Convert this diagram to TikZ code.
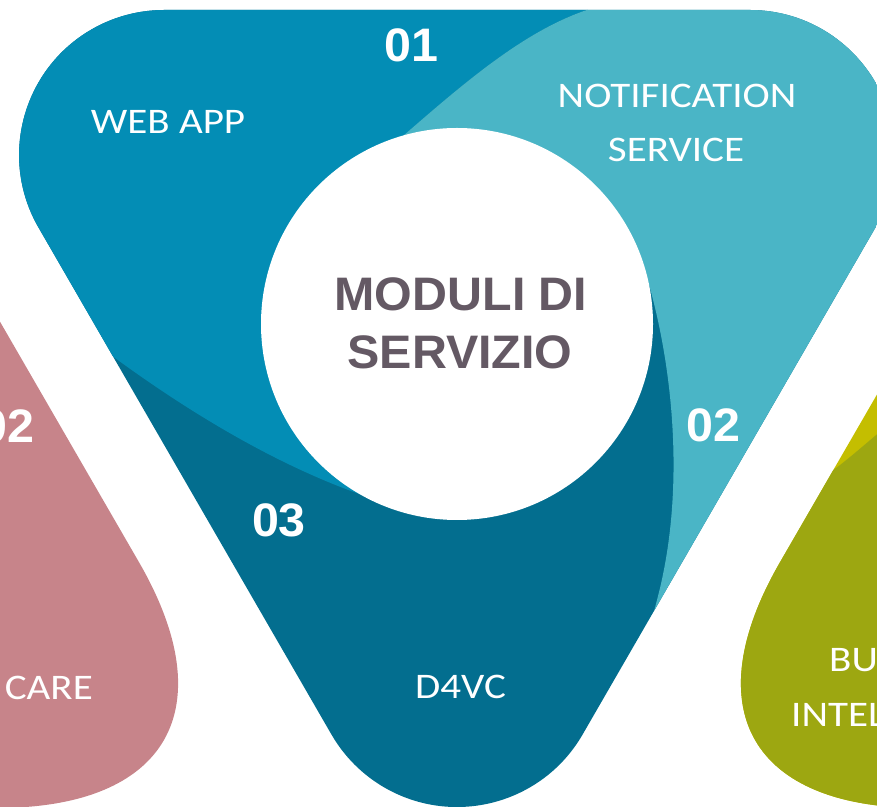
\documentclass[tikz,border=0pt]{standalone}
\usepackage{fontspec}
\newfontfamily\labfont[FakeStretch=1.14]{Carlito}
\newfontfamily\numfont[FakeStretch=1.03]{Liberation Sans}
\definecolor{medc}{RGB}{3,141,181}
\definecolor{lightc}{RGB}{74,181,198}
\definecolor{darkc}{RGB}{3,110,143}
\definecolor{pinkc}{RGB}{199,132,138}
\definecolor{olivec}{RGB}{157,167,17}
\definecolor{yelc}{RGB}{196,190,0}
\definecolor{txtgray}{RGB}{100,89,100}
\begin{document}
\begin{tikzpicture}[x=1pt,y=1pt,
  lab/.style={text=white,inner sep=0pt,font=\labfont\fontsize{36}{40}\selectfont},
  num/.style={text=white,inner sep=0pt,font=\numfont\bfseries\fontsize{47}{50}\selectfont},
  ttl/.style={text=txtgray,inner sep=0pt,font=\numfont\bfseries\fontsize{47}{50}\selectfont}]
\useasboundingbox (0,0) rectangle (877,806);
\clip (0,0) rectangle (877,806);
% left pink drop
\fill[pinkc] (-20,518.9) -- (138.3,245) .. controls (224.6,96.8) and (167.4,-2) .. (-3,-2) -- (-20,-2) -- cycle;
% right yellow and olive drop
\fill[yelc] (986,600) -- (780.7,245) .. controls (694.4,96.8) and (751.6,-2) .. (922,-2) -- (1000,-2) -- (1000,600) -- cycle;
\fill[olivec] (833.3,336) -- (780.7,245) .. controls (694.4,96.8) and (751.6,-2) .. (922,-2) -- (1000,-2) -- (1000,470) .. controls (900,395) and (860,355) .. (833.3,336) -- cycle;
% central rounded triangle
\begin{scope}
\clip (164.1,796) -- (749.9,796) arc[start angle=90,end angle=-30,radius=145pt] -- (582.6,71.5) arc[start angle=-30,end angle=-150,radius=145pt] -- (38.5,578.5) arc[start angle=210,end angle=90,radius=145pt] -- cycle;
\fill[darkc] (0,-10) rectangle (900,810);
\fill[medc] (-100,400) -- (80,473.5) -- (115,448) .. controls (215,375) and (330,310) .. (440,290) -- (457,482) -- (380,650) .. controls (455,715) and (525,780) .. (600,800) -- (600,900) -- (-100,900) -- cycle;
\fill[lightc] (620,900) -- (600,800) .. controls (525,780) and (455,715) .. (380,650) -- (457,482) -- (640,550) .. controls (668,470) and (690,330) .. (657,206) -- (644,156) -- (1000,100) -- (1000,900) -- cycle;
\end{scope}
\node[circle,fill=white,minimum size=392pt,inner sep=0pt] (hub) at (457,482) {};
\node[ttl] (t1) at (461,511.7) {MODULI DI};
\node[ttl] (t2) at (460,453.3) {SERVIZIO};
\node[num] (n01) at (411.5,760.2) {01};
\node[num] (n02) at (713.5,380.5) {02};
\node[num] (n03) at (279,286) {03};
\node[num,anchor=east] (n02b) at (35,379.5) {02};
\node[lab] (web) at (168,684.3) {WEB APP};
\node[lab] (notif1) at (677,710.3) {NOTIFICATION};
\node[lab] (notif2) at (676,656) {SERVICE};
\node[lab] (d4vc) at (460.5,119) {D4VC};
\node[lab,anchor=east] (care) at (93,118) {CARE};
\node[lab,anchor=west] (bu) at (829,146) {BU};
\node[lab,anchor=west] (inte) at (791,91) {INTEL};
\end{tikzpicture}
\end{document}
